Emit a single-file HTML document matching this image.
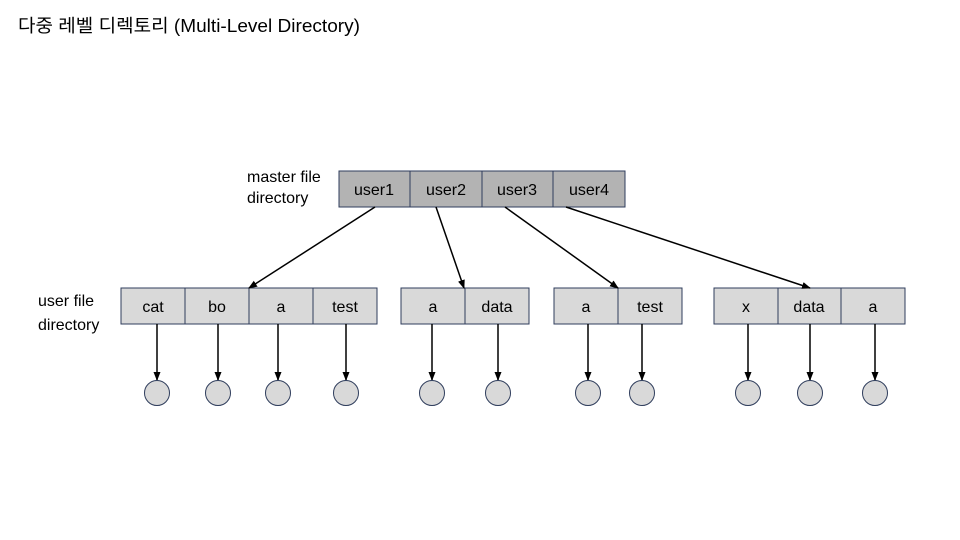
<!DOCTYPE html>
<html><head><meta charset="utf-8"><style>
body{margin:0;width:960px;height:540px;background:#fff;overflow:hidden}
svg{display:block}
text{font-family:"Liberation Sans","Noto Sans CJK KR",sans-serif;fill:#000}
</style></head><body>
<svg width="960" height="540" viewBox="0 0 960 540">
<defs><marker id="a" markerWidth="9" markerHeight="8" refX="8" refY="4" orient="auto" markerUnits="userSpaceOnUse"><path d="M0,0.5 L9,4 L0,7.5 z" fill="#000"/></marker></defs>
<text x="18" y="32" font-size="18" textLength="342" lengthAdjust="spacingAndGlyphs">다중 레벨 디렉토리 (Multi-Level Directory)</text>
<text x="247" y="182" font-size="16">master file</text>
<text x="247" y="203" font-size="16">directory</text>
<text x="38" y="306" font-size="16">user file</text>
<text x="38" y="330" font-size="16">directory</text>
<g stroke="#2f3d5c" stroke-width="1" fill="#b3b3b3">
<rect x="339" y="171" width="71" height="36"/><rect x="410" y="171" width="72" height="36"/><rect x="482" y="171" width="71" height="36"/><rect x="553" y="171" width="72" height="36"/>
</g>
<g font-size="16" text-anchor="middle">
<text x="374" y="195">user1</text><text x="446" y="195">user2</text><text x="517" y="195">user3</text><text x="589" y="195">user4</text>
</g>
<g stroke="#2f3d5c" stroke-width="1" fill="#d9d9d9">
<rect x="121" y="288" width="64" height="36"/><rect x="185" y="288" width="64" height="36"/><rect x="249" y="288" width="64" height="36"/><rect x="313" y="288" width="64" height="36"/>
<rect x="401" y="288" width="64" height="36"/><rect x="465" y="288" width="64" height="36"/>
<rect x="554" y="288" width="64" height="36"/><rect x="618" y="288" width="64" height="36"/>
<rect x="714" y="288" width="64" height="36"/><rect x="778" y="288" width="63" height="36"/><rect x="841" y="288" width="64" height="36"/>
</g>
<g font-size="16" text-anchor="middle">
<text x="153" y="312">cat</text><text x="217" y="312">bo</text><text x="281" y="312">a</text><text x="345" y="312">test</text>
<text x="433" y="312">a</text><text x="497" y="312">data</text>
<text x="586" y="312">a</text><text x="650" y="312">test</text>
<text x="746" y="312">x</text><text x="809" y="312">data</text><text x="873" y="312">a</text>
</g>
<g stroke="#000" stroke-width="1.5" marker-end="url(#a)">
<line x1="375" y1="207" x2="249" y2="288"/>
<line x1="436" y1="207" x2="464" y2="288"/>
<line x1="505" y1="207" x2="618" y2="288"/>
<line x1="566" y1="207" x2="810" y2="288"/>
<line x1="157" y1="324" x2="157" y2="380"/>
<line x1="218" y1="324" x2="218" y2="380"/>
<line x1="278" y1="324" x2="278" y2="380"/>
<line x1="346" y1="324" x2="346" y2="380"/>
<line x1="432" y1="324" x2="432" y2="380"/>
<line x1="498" y1="324" x2="498" y2="380"/>
<line x1="588" y1="324" x2="588" y2="380"/>
<line x1="642" y1="324" x2="642" y2="380"/>
<line x1="748" y1="324" x2="748" y2="380"/>
<line x1="810" y1="324" x2="810" y2="380"/>
<line x1="875" y1="324" x2="875" y2="380"/>
</g>
<g stroke="#2f3d5c" stroke-width="1" fill="#d9d9d9">
<circle cx="157" cy="393" r="12.5"/><circle cx="218" cy="393" r="12.5"/><circle cx="278" cy="393" r="12.5"/><circle cx="346" cy="393" r="12.5"/>
<circle cx="432" cy="393" r="12.5"/><circle cx="498" cy="393" r="12.5"/>
<circle cx="588" cy="393" r="12.5"/><circle cx="642" cy="393" r="12.5"/>
<circle cx="748" cy="393" r="12.5"/><circle cx="810" cy="393" r="12.5"/><circle cx="875" cy="393" r="12.5"/>
</g>
</svg>
</body></html>
